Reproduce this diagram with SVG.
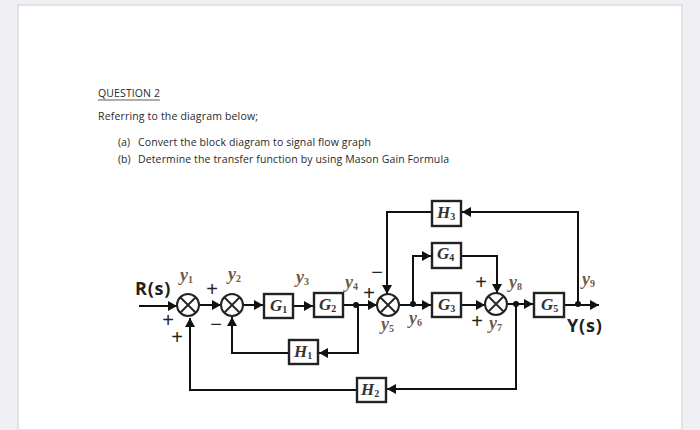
<svg xmlns="http://www.w3.org/2000/svg" width="700" height="430" viewBox="0 0 700 430">
<style>
.t{font-family:"Open Sans","Noto Sans",sans-serif;fill:#2a2a2a;font-size:10.5px}
.line{fill:none;stroke:#111;stroke-width:2}
.box{fill:#fff;stroke:#222;stroke-width:2.4}
.sum{fill:#fff;stroke:#222;stroke-width:2}
.x{stroke:#222;stroke-width:1.8}
.m{font-family:"Liberation Serif",serif;font-style:italic;font-weight:bold;font-size:17px;fill:#333}
.sub{font-size:10px;font-style:normal}
.y{font-family:"Liberation Serif",serif;font-style:italic;font-weight:bold;font-size:18px;fill:#6e5a48}
.pm{font-family:"Liberation Sans",sans-serif;font-size:20px;fill:#222;text-anchor:middle}
.b{font-family:"Open Sans","Noto Sans",sans-serif;font-weight:bold;font-size:18px;letter-spacing:0.8px;fill:#222}
</style>
<defs>
<marker id="a" markerUnits="userSpaceOnUse" markerWidth="10" markerHeight="10" refX="9" refY="5" orient="auto"><path d="M0 0L9 5L0 10z" fill="#111"/></marker>
</defs>
<rect width="700" height="430" fill="#f0f0f4"/>
<rect x="18" y="5" width="664" height="425" fill="#fff" stroke="#dcdce0" stroke-width="1.5"/>
<text class="t" x="98" y="97" textLength="62">QUESTION 2</text>
<path d="M98 100H160" stroke="#333" stroke-width="0.8"/>
<text class="t" x="98" y="120" textLength="160">Referring to the diagram below;</text>
<text class="t" x="118" y="146">(a)</text><text class="t" x="138" y="146" textLength="233">Convert the block diagram to signal flow graph</text>
<text class="t" x="118" y="163">(b)</text><text class="t" x="138" y="163" textLength="311">Determine the transfer function by using Mason Gain Formula</text>
<g id="connectors" class="line">
<path d="M139 306H177" marker-end="url(#a)"/>
<path d="M199 305H221" marker-end="url(#a)"/>
<path d="M243 305H263" marker-end="url(#a)"/>
<path d="M293 306H313" marker-end="url(#a)"/>
<path d="M343 305H377" marker-end="url(#a)"/>
<path d="M399 305H431" marker-end="url(#a)"/>
<path d="M461 305H485" marker-end="url(#a)"/>
<path d="M507 304H533" marker-end="url(#a)"/>
<path d="M564 305H599" marker-end="url(#a)"/>
<path d="M358 305V353H319" marker-end="url(#a)"/>
<path d="M289 353H232V317" marker-end="url(#a)"/>
<path d="M357 390H190V318" marker-end="url(#a)"/>
<path d="M516 304V389H387" marker-end="url(#a)"/>
<path d="M578 304V212H462" marker-end="url(#a)"/>
<path d="M432 212H387V294" marker-end="url(#a)"/>
<path d="M413 304V256H431" marker-end="url(#a)"/>
<path d="M461 256H497V293" marker-end="url(#a)"/>
</g>
<g id="junctions" fill="#111">
<circle cx="356" cy="305" r="3"/><circle cx="413" cy="304" r="3"/><circle cx="516" cy="304" r="3"/><circle cx="578" cy="304" r="3"/>
</g>
<g id="sum1"><circle class="sum" cx="188" cy="305" r="11"/><path class="x" d="M180 297L196 313M196 297L180 313"/></g>
<g id="sum2"><circle class="sum" cx="232" cy="305" r="11"/><path class="x" d="M224 297L240 313M240 297L224 313"/></g>
<g id="sum3"><circle class="sum" cx="388" cy="305" r="11"/><path class="x" d="M380 297L396 313M396 297L380 313"/></g>
<g id="sum4"><circle class="sum" cx="496" cy="304" r="11"/><path class="x" d="M488 296L504 312M504 296L488 312"/></g>
<g id="G1"><rect class="box" x="264" y="294" width="29" height="24"/><text class="m" x="270" y="311">G<tspan class="sub" dy="2">1</tspan></text></g>
<g id="G2"><rect class="box" x="314" y="293" width="29" height="24"/><text class="m" x="319" y="310">G<tspan class="sub" dy="2">2</tspan></text></g>
<g id="G3"><rect class="box" x="432" y="293" width="29" height="24"/><text class="m" x="438" y="310">G<tspan class="sub" dy="2">3</tspan></text></g>
<g id="G4"><rect class="box" x="432" y="243" width="29" height="25"/><text class="m" x="437" y="259">G<tspan class="sub" dy="2">4</tspan></text></g>
<g id="G5"><rect class="box" x="534" y="293" width="30" height="24"/><text class="m" x="541" y="310">G<tspan class="sub" dy="2">5</tspan></text></g>
<g id="H1"><rect class="box" x="289" y="340" width="29" height="24"/><text class="m" x="294" y="357">H<tspan class="sub" dy="2">1</tspan></text></g>
<g id="H2"><rect class="box" x="357" y="378" width="29" height="24"/><text class="m" x="361" y="395">H<tspan class="sub" dy="2">2</tspan></text></g>
<g id="H3"><rect class="box" x="432" y="201" width="29" height="25"/><text class="m" x="437" y="218">H<tspan class="sub" dy="2">3</tspan></text></g>
<g id="labels">
<text class="b" x="135" y="295">R(s)</text>
<text class="b" x="567" y="332">Y(s)</text>
<text class="y" x="180" y="281">y<tspan class="sub" dy="2">1</tspan></text>
<text class="y" x="228" y="280">y<tspan class="sub" dy="2">2</tspan></text>
<text class="y" x="296" y="283">y<tspan class="sub" dy="2">3</tspan></text>
<text class="y" x="345" y="288">y<tspan class="sub" dy="2">4</tspan></text>
<text class="y" x="381" y="330">y<tspan class="sub" dy="2">5</tspan></text>
<text class="y" x="409" y="324">y<tspan class="sub" dy="2">6</tspan></text>
<text class="y" x="489" y="329">y<tspan class="sub" dy="2">7</tspan></text>
<text class="y" x="509" y="288">y<tspan class="sub" dy="2">8</tspan></text>
<text class="y" x="582" y="285">y<tspan class="sub" dy="2">9</tspan></text>
<text class="pm" x="212" y="296">+</text>
<text class="pm" x="168" y="327">+</text>
<text class="pm" x="177" y="344">+</text>
<text class="pm" x="216" y="331">−</text>
<text class="pm" x="369" y="300">+</text>
<text class="pm" x="377" y="279">−</text>
<text class="pm" x="481" y="289">+</text>
<text class="pm" x="477" y="328">+</text>
</g>
</svg>
